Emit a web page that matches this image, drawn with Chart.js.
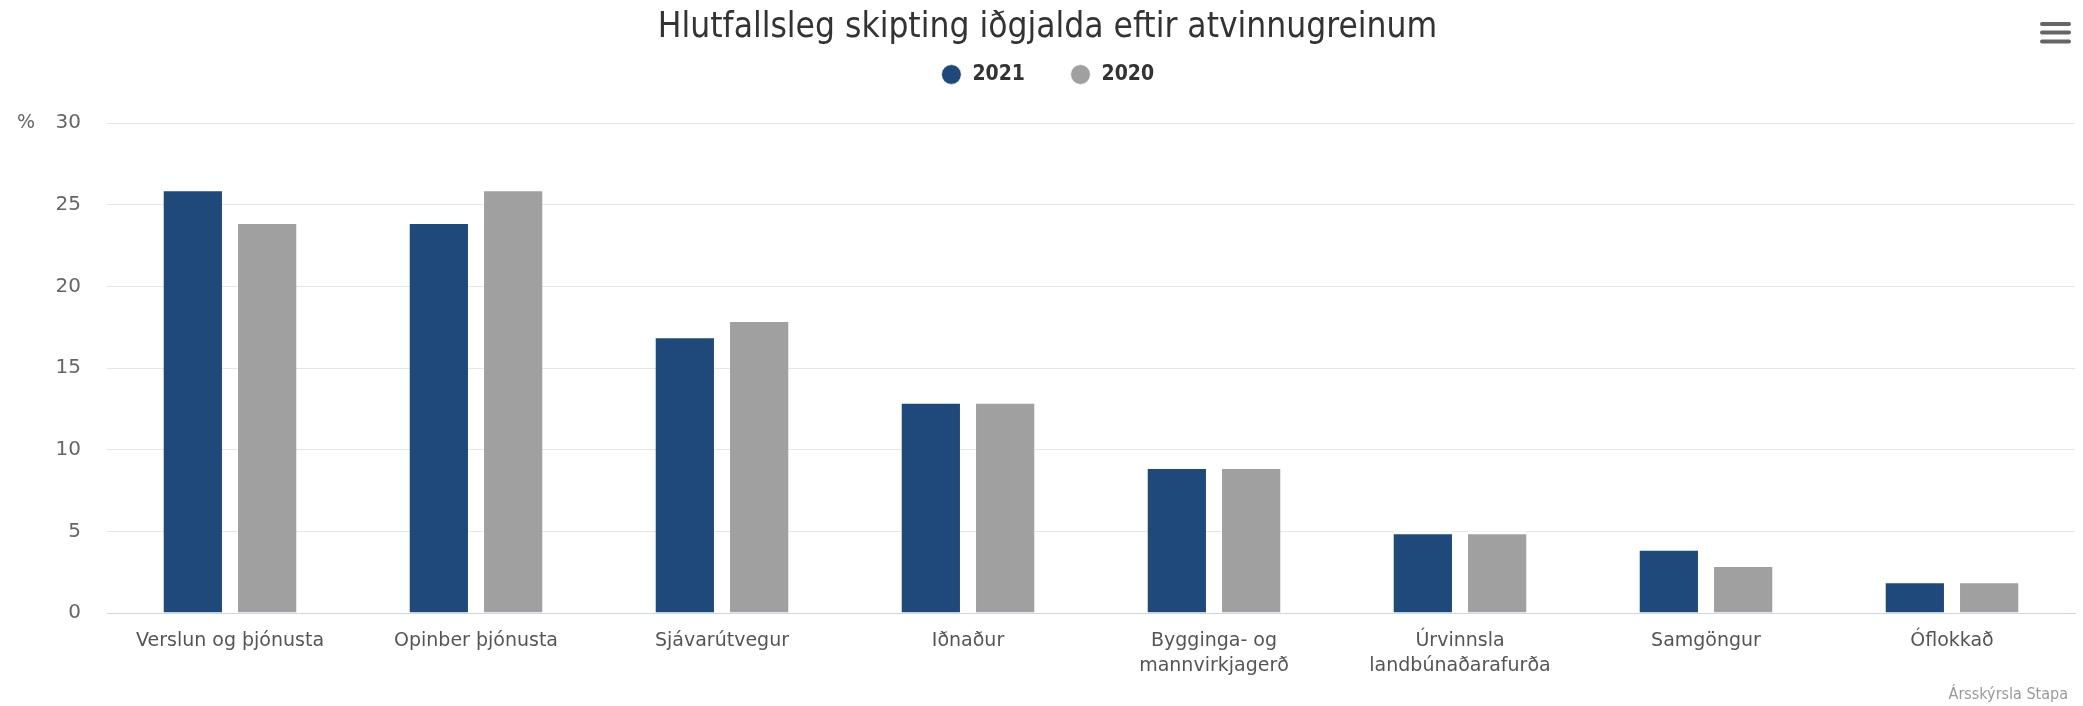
<!DOCTYPE html>
<html>
<head>
<meta charset="utf-8">
<script src="https://cdn.jsdelivr.net/npm/chart.js@4.4.1/dist/chart.umd.min.js"></script>
<style>
    body { margin: 0; background: #fff; }
</style>
</head>
<body>
<canvas id="chart-bars" width="2083" height="706"></canvas>
<script>
const categorias = ["Verslun og þjónusta", "Opinber þjónusta", "Sjávarútvegur", "Iðnaður", ["Bygginga- og", "mannvirkjagerð"], ["Úrvinnsla", "landbúnaðarafurða"], "Samgöngur", "Óflokkað"];
const valores2021 = [26, 24, 17, 13, 9, 5, 4, 2];
const valores2020 = [24, 26, 18, 13, 9, 5, 3, 2];
const ticksY = [0, 5, 10, 15, 20, 25, 30];

const titulo = "Hlutfallsleg skipting iðgjalda eftir atvinnugreinum";
const creditos = "Ársskýrsla Stapa";

const fonteCondensada = "'DejaVu Sans Condensed', 'DejaVu Sans', sans-serif";
const fonte = "'DejaVu Sans', sans-serif";

// legenda mais baixa que o normal, com espaco ate o grafico
const ajusteLegenda = {
    id: 'ajusteLegenda',
    beforeInit(chart) {
        const fitOriginal = chart.legend.fit;
        chart.legend.fit = function () {
            fitOriginal.bind(chart.legend)();
            this.height = 104;
        };
    }
};

// simbolo %, creditos e menu
const extras = {
    id: 'extras',
    afterDraw(chart) {
        const ctx = chart.ctx;
        const y = chart.scales.y;
        ctx.save();
        ctx.fillStyle = '#666';
        ctx.font = "19px " + fonte;
        ctx.textAlign = 'center';
        ctx.textBaseline = 'middle';
        ctx.fillText('%', 26, y.getPixelForValue(30));

        ctx.fillStyle = '#999';
        ctx.font = "16px " + fonteCondensada;
        ctx.textAlign = 'right';
        ctx.fillText(creditos, 2068, 695);

        ctx.strokeStyle = '#666';
        ctx.lineWidth = 4;
        ctx.lineCap = 'round';
        [24, 32.5, 41.5].forEach(l => {
            ctx.beginPath();
            ctx.moveTo(2042, l);
            ctx.lineTo(2069, l);
            ctx.stroke();
        });
        ctx.restore();
    }
};

let ctx = document.getElementById("chart-bars").getContext("2d");

new Chart(ctx, {
    type: "bar",
    data: {
        labels: categorias,
        datasets: [{
            label: "2021",
            data: valores2021,
            backgroundColor: "#1f497b",
            borderColor: "#fff",
            borderWidth: { top: 3, left: 0, right: 0, bottom: 0 },
            categoryPercentage: 0.606,
            barPercentage: 0.785
        }, {
            label: "2020",
            data: valores2020,
            backgroundColor: "#a0a0a0",
            borderColor: "#fff",
            borderWidth: { top: 3, left: 0, right: 0, bottom: 0 },
            categoryPercentage: 0.606,
            barPercentage: 0.785
        }],
    },
    options: {
        responsive: false,
        animation: false,
        layout: {
            padding: { left: 20, right: 8, top: 0, bottom: 0 }
        },
        plugins: {
            title: {
                display: true,
                text: titulo,
                color: '#333',
                font: { size: 35, family: fonteCondensada, weight: 'normal', lineHeight: 1.2 },
                padding: { top: 7, bottom: -30 }
            },
            legend: {
                display: true,
                labels: {
                    usePointStyle: true,
                    pointStyle: 'circle',
                    boxWidth: 21,
                    boxHeight: 14,
                    padding: 45,
                    color: '#333',
                    font: { size: 21, family: fonteCondensada, weight: 'bold' }
                }
            },
            tooltip: { enabled: false }
        },
        scales: {
            y: {
                min: 0,
                max: 30,
                afterFit(scale) { scale.width = 87; },
                afterBuildTicks(scale) { scale.ticks = ticksY.map(v => ({ value: v })); },
                border: { display: false },
                grid: {
                    drawTicks: false,
                    color: (c) => c.tick && c.tick.value === 0 ? '#ccd6eb' : '#e6e6e6',
                    lineWidth: 1
                },
                ticks: {
                    padding: 26,
                    color: '#666',
                    font: { size: 20, family: fonte }
                }
            },
            x: {
                afterFit(scale) { scale.height = 93; },
                border: { display: true, color: '#ccd6eb', width: 1 },
                grid: { display: false, drawTicks: false },
                ticks: {
                    padding: 16,
                    maxRotation: 0,
                    autoSkip: false,
                    color: '#555',
                    font: { size: 19, family: fonte, lineHeight: 1.3 }
                }
            }
        }
    },
    plugins: [ajusteLegenda, extras]
});
</script>
</body>
</html>
